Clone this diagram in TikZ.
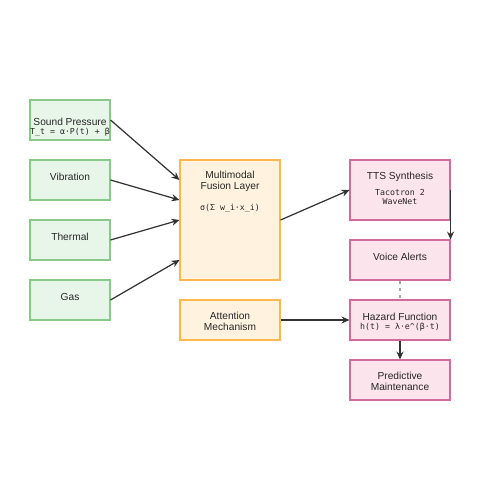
\documentclass[tikz,border=0pt]{standalone}
\usepackage{fontspec}
\setmainfont{Liberation Sans}
\newfontfamily\monof{DejaVu Sans Mono}
\usetikzlibrary{arrows.meta}
\definecolor{gfill}{HTML}{E8F5E9}
\definecolor{gdraw}{HTML}{88C888}
\definecolor{ofill}{HTML}{FFF3E0}
\definecolor{odraw}{HTML}{FFB74D}
\definecolor{pfill}{HTML}{FCE4EC}
\definecolor{pdraw}{HTML}{D06C9C}
\definecolor{arr}{HTML}{333333}
\begin{document}
\begin{tikzpicture}[x=0.02cm,y=-0.02cm,
  box/.style={rectangle,minimum width=1.6cm,minimum height=0.8cm,inner sep=0pt,line width=0.6pt},
  gbox/.style={box,fill=gfill,draw=gdraw},
  obox/.style={box,fill=ofill,draw=odraw,minimum width=2cm},
  pbox/.style={box,fill=pfill,draw=pdraw,minimum width=2cm},
  lab/.style={font=\fontsize{5.8}{6.4}\selectfont,align=center,text=black!85,inner sep=0pt},
  mono/.style={font=\monof\fontsize{4.7}{5.6}\selectfont,align=center,text=black!85,inner sep=0pt},
  conn/.style={draw=arr,line width=0.7pt,-{Stealth[length=4.5pt,width=4pt]}}
]
\useasboundingbox (0,0) rectangle (500,500);
% inputs
\node[gbox] (sp) at (70,120) {};
\node[lab] (spt) at (70,121.5) {Sound Pressure};
\node[mono] (spf) at (70,132) {T\_t = α·P(t) + β};
\node[gbox] (vb) at (70,180) {};
\node[lab] (vbt) at (70,176.5) {Vibration};
\node[gbox] (th) at (70,240) {};
\node[lab] (tht) at (70,236.5) {Thermal};
\node[gbox] (gs) at (70,300) {};
\node[lab] (gst) at (70,296.5) {Gas};
% fusion
\node[obox,minimum height=2.4cm] (fu) at (230,220) {};
\node[lab] (fut) at (230,181) {Multimodal\\Fusion Layer};
\node[mono] (fuf) at (230,208) {σ(Σ w\_i·x\_i)};
\node[obox] (at) at (230,320) {};
\node[lab] (att) at (230,321) {Attention\\Mechanism};
% outputs
\node[pbox,minimum height=1.2cm] (tts) at (400,190) {};
\node[lab] (ttst) at (400,176.5) {TTS Synthesis};
\node[mono] (ttsf) at (400,197) {Tacotron 2\\WaveNet};
\node[pbox] (va) at (400,260) {};
\node[lab] (vat) at (400,256.5) {Voice Alerts};
\node[pbox] (hz) at (400,320) {};
\node[lab] (hzt) at (400,316.5) {Hazard Function};
\node[mono] (hzf) at (400,327.5) {h(t) = λ·e\textasciicircum(β·t)};
\node[pbox] (pm) at (400,380) {};
\node[lab] (pmt) at (400,381) {Predictive\\Maintenance};
% connectors
\draw[conn] (sp.east) -- (fu.west |- 0,180);
\draw[conn] (vb.east) -- (fu.west |- 0,200);
\draw[conn] (th.east) -- (fu.west |- 0,220);
\draw[conn] (gs.east) -- (fu.west |- 0,260);
\draw[conn] (fu.east) -- (tts.west);
\draw[conn] (tts.east) -- (va.north east);
\draw[conn] (at.east) -- (hz.west);
\draw[draw=gray!70,line width=0.7pt,dashed,dash pattern=on 2pt off 2pt] (va.south) -- (hz.north);
\draw[conn] (hz.south) -- (pm.north);
\end{tikzpicture}
\end{document}
